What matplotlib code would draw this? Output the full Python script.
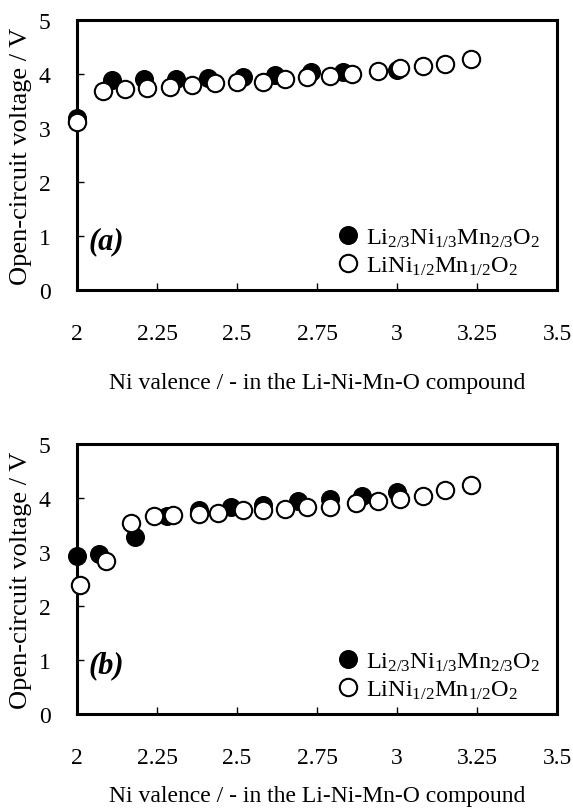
import numpy as np
import matplotlib
matplotlib.use("Agg")
import matplotlib.pyplot as plt

plt.rcParams['font.family'] = ['Liberation Serif', 'DejaVu Serif']
plt.rcParams['mathtext.fontset'] = 'custom'
plt.rcParams['mathtext.rm'] = 'Liberation Serif'
plt.rcParams['mathtext.it'] = 'Liberation Serif:italic'

# panel (a)
a_li23_x = [2.00, 2.11, 2.21, 2.31, 2.41, 2.52, 2.62, 2.73, 2.83, 3.00]
a_li23_y = [3.19, 3.89, 3.91, 3.91, 3.92, 3.94, 3.98, 4.04, 4.03, 4.08]
a_lini_x = [2.00, 2.08, 2.15, 2.22, 2.29, 2.36, 2.43, 2.50, 2.58, 2.65,
            2.72, 2.79, 2.86, 2.94, 3.01, 3.08, 3.15, 3.23]
a_lini_y = [3.11, 3.68, 3.72, 3.74, 3.76, 3.79, 3.83, 3.85, 3.86, 3.91,
            3.94, 3.97, 4.00, 4.06, 4.11, 4.14, 4.18, 4.27]

# panel (b)
b_li23_x = [2.00, 2.07, 2.18, 2.28, 2.38, 2.48, 2.58, 2.69, 2.79, 2.89, 3.00]
b_li23_y = [2.92, 2.97, 3.27, 3.67, 3.78, 3.83, 3.87, 3.94, 3.99, 4.03, 4.11]
b_lini_x = [2.01, 2.09, 2.17, 2.24, 2.30, 2.38, 2.44, 2.52, 2.58, 2.65,
            2.72, 2.79, 2.87, 2.94, 3.01, 3.08, 3.15, 3.23]
b_lini_y = [2.39, 2.84, 3.54, 3.66, 3.68, 3.70, 3.73, 3.77, 3.78, 3.79,
            3.83, 3.84, 3.91, 3.94, 3.98, 4.04, 4.14, 4.24]

xticks = [2, 2.25, 2.5, 2.75, 3, 3.25, 3.5]
xticklabels = ['2', '2.25', '2.5', '2.75', '3', '3.25', '3.5']
yticks = [0, 1, 2, 3, 4, 5]

lab1 = r'Li$_{\mathrm{2/3}}$Ni$_{\mathrm{1/3}}$Mn$_{\mathrm{2/3}}$O$_{\mathrm{2}}$'
lab2 = r'LiNi$_{\mathrm{1/2}}$Mn$_{\mathrm{1/2}}$O$_{\mathrm{2}}$'

fig = plt.figure(figsize=(5.73, 8.12), dpi=100)


def panel(rect, x1, y1, x2, y2, tag, xpad):
    ax = fig.add_axes(rect)
    ax.plot(x1, y1, 'o', color='black', ms=12.5, mec='black', mew=1.2,
            clip_on=False, zorder=3, label=lab1)
    ax.plot(x2, y2, 'o', color='white', ms=12.5, mec='black', mew=1.5,
            clip_on=False, zorder=4, label=lab2)
    ax.set_xlim(2, 3.5)
    ax.set_ylim(0, 5)
    ax.set_xticks(xticks)
    ax.set_xticklabels(xticklabels)
    ax.set_yticks(yticks)
    ax.tick_params(axis='x', direction='in', length=5, width=1, pad=24, labelsize=17)
    ax.tick_params(axis='y', direction='in', length=5, width=1, pad=19, labelsize=17)
    for s in ax.spines.values():
        s.set_linewidth(2.2)
    ax.set_xlabel('Ni valence / - in the Li-Ni-Mn-O compound', fontsize=17, labelpad=xpad)
    ax.set_ylabel('Open-circuit voltage / V', fontsize=19, labelpad=5)
    ax.text(2.035, 0.78, tag, fontsize=22, fontweight='bold', style='italic')
    ax.legend(loc='lower right', bbox_to_anchor=(1.0, -0.015), frameon=False,
              fontsize=17.5, handletextpad=0.15, labelspacing=0.25,
              borderaxespad=0.3, handlelength=1.2)
    return ax


panel([0.1344, 0.6416, 0.838, 0.3325], a_li23_x, a_li23_y, a_lini_x, a_lini_y, '(a)', 20)
panel([0.1344, 0.1195, 0.838, 0.3325], b_li23_x, b_li23_y, b_lini_x, b_lini_y, '(b)', 12)

plt.savefig('out.png', dpi=100)
